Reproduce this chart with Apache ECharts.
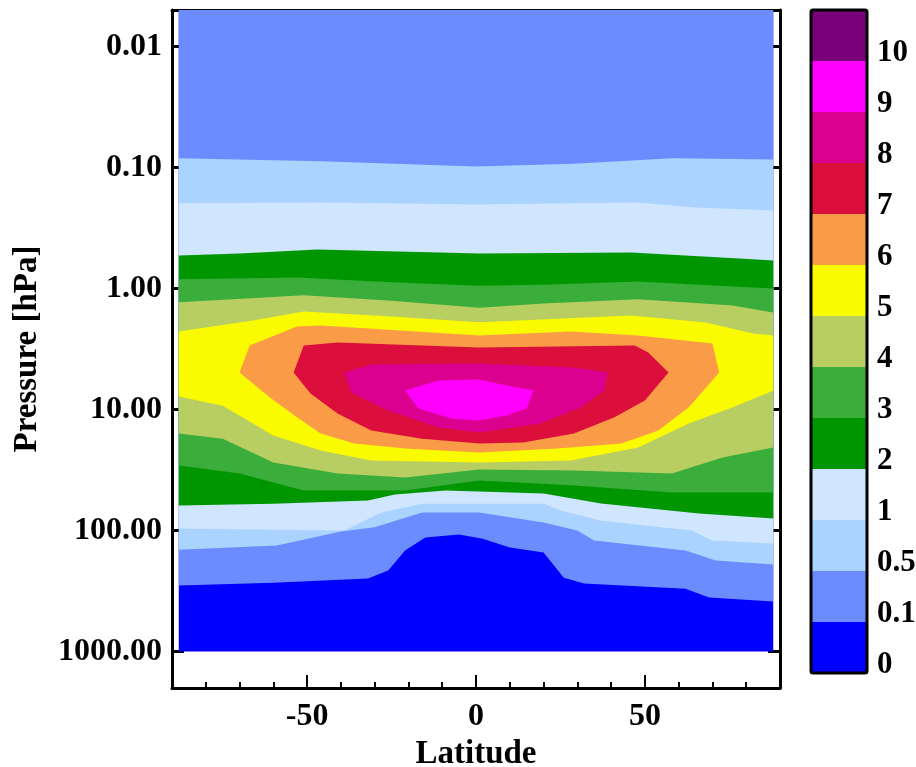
<!DOCTYPE html>
<html><head><meta charset="utf-8">
<script src="https://cdn.jsdelivr.net/npm/echarts@6/dist/echarts.min.js"></script>
<style>html,body{margin:0;padding:0;background:#fff}#chart{width:916px;height:767px}</style>
</head><body><div id="chart"></div>
<script>
// ---- axis ticks / labels ----
const latMajorTicks = [-50, 0, 50];
const latMinorTicks = [-80, -70, -60, -40, -30, -20, -10, 10, 20, 30, 40, 60, 70, 80];
const pressureTicks = [0.01, 0.1, 1, 10, 100, 1000];
const pressureTickLabels = ['0.01', '0.10', '1.00', '10.00', '100.00', '1000.00'];

// ---- colour levels ----
const levelLabels = ['0', '0.1', '0.5', '1', '2', '3', '4', '5', '6', '7', '8', '9', '10'];
const levelColors = ['#0000ff', '#6b8cff', '#aad4ff', '#d0e6ff', '#009600', '#3aad3a', '#b8ce62',
                     '#fbfb00', '#fa9b48', '#dc0f3c', '#dc0091', '#ff00ff', '#780078'];

// ---- contour boundaries: [latitude, pressure hPa] ----
const dataTop = [[-88, 0.005], [88, 0.005]];
const surface = [[-88, 1000], [88, 1000]];

const b01Lower = [[-88, 285], [-60, 270], [-32, 249], [-26, 214], [-21, 146], [-15, 114], [-5, 108], [2, 117],
                  [10, 138], [20, 152], [26, 245], [32, 274], [62, 302], [69, 358], [88, 386]];

const b05Upper = [[-88, 0.084], [-46, 0.089], [0, 0.098], [29, 0.093], [58, 0.084], [88, 0.086]];
const b05Lower = [[-88, 144], [-59, 133], [-40, 102], [-30, 94], [-16, 71], [1, 71], [20, 86], [30, 100],
                  [35, 121], [62, 146], [71, 177], [88, 191]];

const b1Upper = [[-88, 0.198], [-46, 0.195], [0, 0.202], [48, 0.195], [65, 0.214], [88, 0.227]];
const b1Lower = [[-88, 96], [-39, 100], [-28, 71], [-16, 60], [20, 60], [25, 68], [37, 83], [64, 100],
                 [70, 121], [88, 128]];

const b2Upper = [[-88, 0.534], [-70, 0.514], [-47, 0.476], [1, 0.514], [46, 0.504], [78, 0.565], [88, 0.587]];
const b2Lower = [[-88, 62], [-60, 60], [-32, 56.5], [-24, 50.4], [-9, 46.7], [20, 49.5], [37, 59.8],
                 [66, 72.4], [88, 79.6]];

const b3Upper = [[-88, 0.84], [-53, 0.81], [-25, 0.89], [1, 0.95], [20, 0.93], [48, 0.875], [75, 0.96], [88, 1.0]];
const b3Lower = [[-88, 29.0], [-70, 33.8], [-51, 46.7], [-21, 46.7], [1, 38.6], [29, 42.5], [58, 48.5], [88, 48.5]];

const b4Upper = [[-88, 1.30], [-51, 1.14], [-25, 1.26], [1, 1.44], [20, 1.33], [48, 1.23], [76, 1.38], [88, 1.58]];
const b4Lower = [[-88, 15.8], [-75, 17.4], [-60, 27.4], [-41, 33.8], [-21, 36.5], [1, 31.3], [29, 31.9],
                 [58, 33.8], [73, 24.9], [88, 20.6]];

const b5Upper = [[-88, 2.27], [-66, 1.84], [-51, 1.55], [-25, 1.70], [1, 1.90], [46, 1.67], [68, 1.91],
                 [82, 2.35], [88, 2.45]];
const b5Lower = [[-88, 7.8], [-75, 9.3], [-60, 16.4], [-46, 21.8], [-31, 26.4], [1, 27.4], [28, 26.4],
                 [48, 20.6], [63, 13.05], [76, 9.6], [88, 7.0]];

const b6Upper = [[-70, 4.95], [-67, 2.96], [-53, 2.06], [-46, 2.02], [1, 2.45], [28, 2.27], [48, 2.45],
                 [70, 2.85], [72, 4.95]];
const b6Lower = [[-70, 4.95], [-61, 7.96], [-53, 11.6], [-46, 15.8], [-36, 19.1], [-21, 21.0], [1, 22.7],
                 [24, 21.0], [43, 19.1], [54, 14.9], [63, 9.6], [72, 4.95]];

const b7Upper = [[-54, 4.95], [-51, 2.96], [-41, 2.79], [1, 3.07], [47, 2.96], [51, 3.38], [57, 4.95]];
const b7Lower = [[-54, 4.95], [-49, 7.37], [-41, 10.8], [-31, 14.9], [-16, 17.4], [1, 19.1], [14, 18.7],
                 [29, 15.8], [41, 11.6], [50, 8.43], [57, 4.95]];

const b8Upper = [[-39, 4.95], [-31, 4.25], [1, 4.17], [29, 4.50], [39, 4.95]];
const b8Lower = [[-39, 4.95], [-37, 7.24], [-26, 10.2], [-11, 14.1], [1, 15.5], [19, 13.05], [31, 9.63],
                 [38, 6.97], [39, 4.95]];

const b9Upper = [[-21, 6.97], [-11, 5.76], [1, 5.65], [9, 6.34], [17, 6.97]];
const b9Lower = [[-21, 6.97], [-17, 9.81], [-7, 11.9], [1, 12.3], [9, 11.2], [15, 9.81], [17, 6.97]];

// regions {value >= level}, painted in increasing order
const regions = [
  { level: 0, upper: dataTop, lower: surface },
  { level: 1, upper: dataTop, lower: b01Lower },
  { level: 2, upper: b05Upper, lower: b05Lower },
  { level: 3, upper: b1Upper, lower: b1Lower },
  { level: 4, upper: b2Upper, lower: b2Lower },
  { level: 5, upper: b3Upper, lower: b3Lower },
  { level: 6, upper: b4Upper, lower: b4Lower },
  { level: 7, upper: b5Upper, lower: b5Lower },
  { level: 8, upper: b6Upper, lower: b6Lower },
  { level: 9, upper: b7Upper, lower: b7Lower },
  { level: 10, upper: b8Upper, lower: b8Lower },
  { level: 11, upper: b9Upper, lower: b9Lower }
];

const FONT = 'Liberation Serif';
const txt = { fontFamily: FONT, fontWeight: 'bold', fontSize: 31, color: '#000' };
const tickTxt = { fontFamily: FONT, fontWeight: 'bold', fontSize: 32, color: '#000' };
const nameTxt = { fontFamily: FONT, fontWeight: 'bold', fontSize: 33, color: '#000' };
const blackLine = { color: '#000', width: 3 };

function pressureLabel(v) {
  const i = pressureTicks.findIndex(t => Math.abs(Math.log10(t) - Math.log10(v)) < 1e-6);
  return i >= 0 ? pressureTickLabels[i] : '';
}

const gridBase = { containLabel: false, outerBoundsMode: 'none' };

const chart = echarts.init(document.getElementById('chart'), null, { renderer: 'canvas' });
chart.setOption({
  animation: false,
  backgroundColor: '#fff',
  grid: [
    Object.assign({ left: 172, top: 10, width: 608, height: 678 }, gridBase),
    Object.assign({ left: 811, top: 10, width: 56, height: 663 }, gridBase),
    Object.assign({ left: 172, top: 10, width: 608, height: 678 }, gridBase)
  ],
  xAxis: [
    { gridIndex: 0, type: 'value', min: -90, max: 90, position: 'bottom',
      axisLine: { show: true, onZero: false, lineStyle: blackLine },
      axisTick: { show: true, inside: true, length: 13, customValues: latMajorTicks, lineStyle: { color: '#000', width: 2 } },
      axisLabel: Object.assign({ customValues: latMajorTicks, margin: 13 }, tickTxt),
      splitLine: { show: false },
      name: 'Latitude', nameLocation: 'middle', nameGap: 46, nameTextStyle: nameTxt },
    { gridIndex: 0, type: 'value', min: -90, max: 90, position: 'top',
      axisLine: { show: true, onZero: false, lineStyle: blackLine },
      axisTick: { show: true, inside: true, length: 13, customValues: latMajorTicks, lineStyle: { color: '#000', width: 2 } },
      axisLabel: { show: false }, splitLine: { show: false } },
    { gridIndex: 1, type: 'value', min: 0, max: 1, show: false },
    { gridIndex: 2, type: 'value', min: -90, max: 90, position: 'bottom',
      axisLine: { show: false },
      axisTick: { show: true, inside: true, length: 6, customValues: latMinorTicks, lineStyle: { color: '#000', width: 2 } },
      axisLabel: { show: false }, splitLine: { show: false } },
    { gridIndex: 2, type: 'value', min: -90, max: 90, position: 'top',
      axisLine: { show: false },
      axisTick: { show: true, inside: true, length: 6, customValues: latMinorTicks, lineStyle: { color: '#000', width: 2 } },
      axisLabel: { show: false }, splitLine: { show: false } }
  ],
  yAxis: [
    { gridIndex: 0, type: 'log', logBase: 10, min: 0.005, max: 2000, inverse: true, position: 'left',
      axisLine: { show: true, onZero: false, lineStyle: blackLine },
      axisTick: { show: true, inside: true, length: 12, customValues: pressureTicks, lineStyle: { color: '#000', width: 3 } },
      axisLabel: Object.assign({ customValues: pressureTicks, formatter: pressureLabel, margin: 10 }, tickTxt),
      splitLine: { show: false }, minorTick: { show: false },
      name: 'Pressure [hPa]', nameLocation: 'middle', nameGap: 128, nameRotate: 90, nameTextStyle: nameTxt },
    { gridIndex: 0, type: 'log', logBase: 10, min: 0.005, max: 2000, inverse: true, position: 'right',
      axisLine: { show: true, onZero: false, lineStyle: blackLine },
      axisTick: { show: true, inside: true, length: 12, customValues: pressureTicks, lineStyle: { color: '#000', width: 3 } },
      axisLabel: { show: false }, splitLine: { show: false } },
    { gridIndex: 1, type: 'value', min: 0, max: 13, interval: 1, position: 'right',
      axisLine: { show: false }, axisTick: { show: false }, splitLine: { show: false },
      axisLabel: Object.assign({ formatter: v => (levelLabels[v] !== undefined ? levelLabels[v] : ''),
        verticalAlign: 'bottom', lineHeight: 17, margin: 10, showMaxLabel: false }, txt) },
    { gridIndex: 2, type: 'value', min: 0, max: 1, show: false }
  ],
  series: [
    {
      type: 'custom', xAxisIndex: 0, yAxisIndex: 0, z: 1,
      data: regions.map((r, i) => [0, 1, i]),
      encode: { x: 0, y: 1 },
      renderItem: function (params, api) {
        const r = regions[params.dataIndex];
        const pts = r.upper.map(d => api.coord(d))
          .concat(r.lower.slice().reverse().map(d => api.coord(d)));
        return { type: 'polygon', shape: { points: pts }, style: { fill: levelColors[r.level] } };
      }
    },
    {
      type: 'custom', xAxisIndex: 2, yAxisIndex: 2, z: 1,
      data: levelColors.map((c, i) => [0, i, i]),
      encode: { x: 0, y: 1 },
      renderItem: function (params, api) {
        const i = params.dataIndex;
        const p0 = api.coord([0, i]);
        const p1 = api.coord([1, i + 1]);
        return { type: 'rect', shape: { x: p0[0], y: p1[1], width: p1[0] - p0[0], height: p0[1] - p1[1] },
                 style: { fill: levelColors[i] } };
      }
    },
    {
      type: 'custom', xAxisIndex: 2, yAxisIndex: 2, z: 3,
      data: [[0, 0]],
      encode: { x: 0, y: 1 },
      renderItem: function (params, api) {
        const p0 = api.coord([0, 0]);
        const p1 = api.coord([1, levelColors.length]);
        return { type: 'rect', shape: { x: p0[0], y: p1[1], width: p1[0] - p0[0], height: p0[1] - p1[1], r: 2 },
                 style: { fill: null, stroke: '#000', lineWidth: 3 } };
      }
    }
  ]
});
</script></body></html>
